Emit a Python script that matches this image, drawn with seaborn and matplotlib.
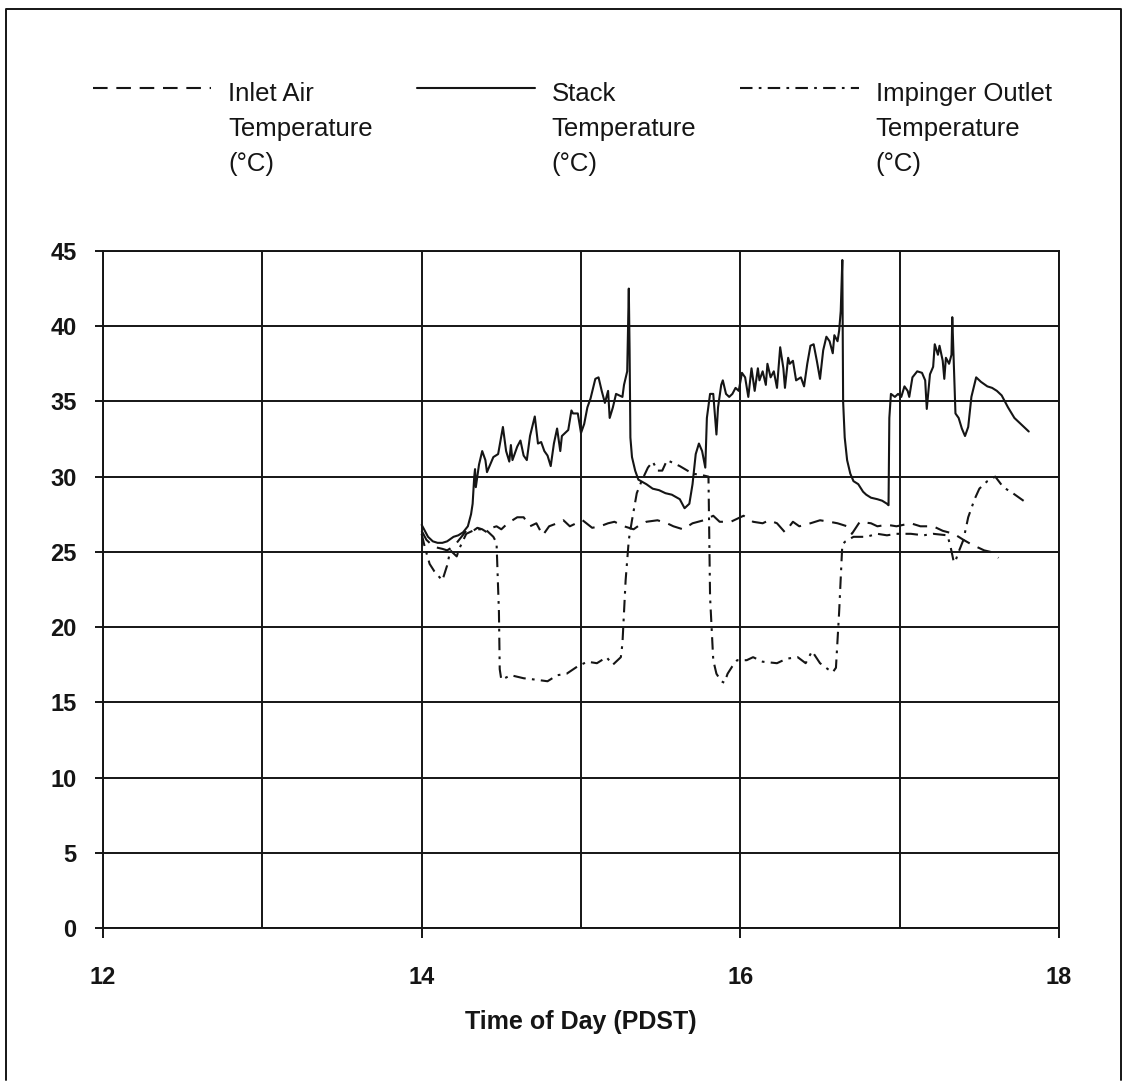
import numpy as np
import pandas as pd
import matplotlib
matplotlib.use("Agg")
import matplotlib.pyplot as plt
from matplotlib.legend_handler import HandlerLine2D
from matplotlib.lines import Line2D
import seaborn as sns

# Time of day (decimal hours, PDST) and temperatures (deg C)
inlet_time = [14.00, 14.03, 14.06, 14.09, 14.13, 14.16, 14.19, 14.22, 14.25, 14.28,
              14.31, 14.35, 14.38, 14.41, 14.44, 14.47, 14.50, 14.54, 14.57, 14.60,
              14.64, 14.68, 14.72, 14.76, 14.80, 14.85, 14.89, 14.93, 14.97, 15.01,
              15.07, 15.12, 15.17, 15.21, 15.27, 15.33, 15.37, 15.41, 15.48, 15.54,
              15.58, 15.64, 15.70, 15.77, 15.83, 15.87, 15.94, 16.02, 16.08, 16.14,
              16.18, 16.23, 16.28, 16.33, 16.37, 16.44, 16.50, 16.56, 16.61, 16.67,
              16.70, 16.75, 16.82, 16.86, 16.92, 16.98, 17.07, 17.13, 17.21, 17.27,
              17.34, 17.40, 17.45, 17.49, 17.53, 17.57, 17.62]
inlet_temp = [26.4, 25.8, 25.5, 25.3, 25.2, 25.1, 25.3, 25.6, 26.0, 26.4,
              26.3, 26.6, 26.5, 26.3, 26.6, 26.7, 26.5, 26.9, 27.1, 27.3,
              27.3, 26.7, 26.9, 26.1, 26.7, 26.9, 27.1, 26.7, 26.9, 27.1,
              26.6, 26.7, 26.9, 27.0, 26.7, 26.5, 26.8, 27.0, 27.1, 26.9,
              26.7, 26.5, 26.9, 27.1, 27.4, 27.0, 27.0, 27.4, 27.0, 26.9,
              27.1, 26.9, 26.3, 27.0, 26.7, 26.9, 27.1, 27.0, 26.9, 26.7,
              26.2, 27.0, 26.9, 26.7, 26.8, 26.7, 26.9, 26.7, 26.7, 26.4,
              26.2, 25.8, 25.5, 25.3, 25.1, 25.0, 24.6]

stack_time = [14.00, 14.02, 14.04, 14.07, 14.10, 14.13, 14.16, 14.20, 14.23, 14.26,
              14.29, 14.31, 14.32, 14.33, 14.335, 14.34, 14.36, 14.38, 14.40, 14.41,
              14.45, 14.48, 14.51, 14.53, 14.55, 14.56, 14.57, 14.60, 14.62, 14.64,
              14.66, 14.68, 14.71, 14.73, 14.75, 14.77, 14.79, 14.81, 14.83, 14.85,
              14.87, 14.88, 14.90, 14.92, 14.94, 14.95, 14.98, 15.00, 15.02, 15.04,
              15.06, 15.09, 15.11, 15.13, 15.15, 15.17, 15.18, 15.20, 15.22, 15.24,
              15.26, 15.27, 15.29, 15.30, 15.305, 15.31, 15.32, 15.34, 15.36, 15.41,
              15.45, 15.49, 15.53, 15.57, 15.62, 15.65, 15.68, 15.70, 15.72, 15.74,
              15.76, 15.78, 15.79, 15.81, 15.83, 15.85, 15.86, 15.88, 15.89, 15.91,
              15.93, 15.95, 15.97, 15.99, 16.01, 16.03, 16.05, 16.07, 16.09, 16.11,
              16.12, 16.14, 16.16, 16.17, 16.19, 16.21, 16.23, 16.25, 16.27, 16.28,
              16.30, 16.31, 16.33, 16.35, 16.38, 16.40, 16.42, 16.44, 16.46, 16.48,
              16.50, 16.52, 16.54, 16.56, 16.58, 16.59, 16.61, 16.62, 16.63, 16.64,
              16.645, 16.655, 16.67, 16.69, 16.71, 16.74, 16.77, 16.79, 16.82, 16.86,
              16.89, 16.92, 16.93, 16.935, 16.945, 16.97, 16.99, 17.01, 17.03, 17.05,
              17.06, 17.08, 17.11, 17.14, 17.16, 17.17, 17.19, 17.21, 17.22, 17.24,
              17.25, 17.27, 17.28, 17.29, 17.31, 17.325, 17.33, 17.34, 17.35, 17.37,
              17.39, 17.41, 17.43, 17.45, 17.48, 17.51, 17.55, 17.58, 17.61, 17.64,
              17.68, 17.72, 17.77, 17.81]
stack_temp = [26.8, 26.4, 26.0, 25.7, 25.6, 25.6, 25.7, 26.0, 26.1, 26.3,
              26.7, 27.5, 28.2, 30.0, 30.5, 29.3, 30.8, 31.7, 31.1, 30.3,
              31.3, 31.5, 33.3, 31.7, 31.0, 32.1, 31.1, 32.0, 32.4, 31.4,
              31.1, 32.7, 34.0, 32.2, 32.3, 31.7, 31.4, 30.7, 32.2, 33.2,
              31.7, 32.7, 32.9, 33.1, 34.4, 34.2, 34.2, 32.9, 33.5, 34.6,
              35.2, 36.5, 36.6, 35.7, 34.9, 35.7, 33.9, 34.6, 35.5, 35.4,
              35.3, 36.1, 37.0, 42.5, 38.4, 32.6, 31.3, 30.4, 29.8, 29.5,
              29.2, 29.1, 28.9, 28.8, 28.5, 27.9, 28.2, 29.5, 31.5, 32.2,
              31.7, 30.6, 33.9, 35.5, 35.5, 32.8, 34.6, 36.1, 36.4, 35.5,
              35.3, 35.5, 35.9, 35.7, 36.9, 36.6, 35.3, 37.2, 35.7, 37.2,
              36.4, 37.0, 36.1, 37.5, 36.6, 37.0, 35.9, 38.6, 37.2, 35.9,
              37.9, 37.5, 37.7, 36.4, 36.6, 36.0, 37.5, 38.7, 38.8, 37.7,
              36.5, 38.4, 39.3, 39.0, 38.2, 39.4, 39.0, 39.7, 41.0, 44.4,
              35.0, 32.6, 31.1, 30.2, 29.7, 29.5, 29.0, 28.8, 28.6, 28.5,
              28.4, 28.2, 28.1, 33.9, 35.5, 35.3, 35.5, 35.3, 36.0, 35.7,
              35.3, 36.6, 37.0, 36.9, 36.4, 34.5, 36.8, 37.3, 38.8, 38.1,
              38.7, 37.7, 36.5, 37.9, 37.5, 38.1, 40.6, 37.3, 34.2, 33.9,
              33.2, 32.7, 33.3, 35.3, 36.6, 36.3, 36.0, 35.9, 35.7, 35.4,
              34.6, 33.9, 33.4, 33.0]

impinger_time = [14.00, 14.02, 14.05, 14.08, 14.13, 14.16, 14.18, 14.22, 14.24, 14.28,
                 14.34, 14.40, 14.45, 14.47, 14.485, 14.49, 14.50, 14.56, 14.64, 14.72,
                 14.79, 14.85, 14.91, 14.98, 15.04, 15.10, 15.16, 15.20, 15.25, 15.26,
                 15.28, 15.30, 15.32, 15.35, 15.38, 15.42, 15.45, 15.48, 15.51, 15.54,
                 15.58, 15.62, 15.70, 15.76, 15.80, 15.81, 15.83, 15.85, 15.88, 15.90,
                 15.92, 15.95, 15.98, 16.04, 16.08, 16.14, 16.23, 16.29, 16.36, 16.41,
                 16.45, 16.50, 16.55, 16.58, 16.60, 16.62, 16.64, 16.66, 16.71, 16.79,
                 16.86, 16.92, 16.98, 17.07, 17.15, 17.21, 17.30, 17.32, 17.34, 17.35,
                 17.37, 17.40, 17.43, 17.47, 17.50, 17.55, 17.60, 17.65, 17.71, 17.79]
impinger_temp = [26.2, 25.3, 24.2, 23.7, 23.1, 24.1, 25.1, 24.7, 25.3, 26.2,
                 26.5, 26.5, 26.0, 25.6, 21.0, 17.2, 16.5, 16.8, 16.6, 16.5,
                 16.4, 16.8, 16.9, 17.4, 17.7, 17.6, 18.0, 17.5, 18.0, 18.9,
                 23.1, 25.8, 27.1, 28.9, 29.7, 30.6, 31.0, 30.4, 30.4, 31.1,
                 30.9, 30.7, 30.2, 30.1, 30.0, 22.0, 17.8, 16.9, 16.4, 16.3,
                 16.9, 17.4, 17.8, 17.8, 18.0, 17.7, 17.6, 17.9, 18.0, 17.6,
                 18.4, 17.6, 17.2, 17.0, 17.3, 21.0, 25.5, 25.7, 26.0, 26.0,
                 26.2, 26.1, 26.2, 26.2, 26.1, 26.2, 26.1, 25.3, 24.3, 24.4,
                 25.0, 25.8, 27.3, 28.5, 29.2, 29.7, 30.0, 29.3, 28.9, 28.3]

series_labels = ["Inlet Air\nTemperature\n(\u00b0C)",
                 "Stack\nTemperature\n(\u00b0C)",
                 "Impinger Outlet\nTemperature\n(\u00b0C)"]
x_label = "Time of Day (PDST)"
x_major_ticks = [12, 14, 16, 18]
x_minor_ticks = [13, 15, 17]
y_ticks = [0, 5, 10, 15, 20, 25, 30, 35, 40, 45]

frames = []
for label, t, v in zip(series_labels,
                       [inlet_time, stack_time, impinger_time],
                       [inlet_temp, stack_temp, impinger_temp]):
    frames.append(pd.DataFrame({"time": t, "temp": v, "series": label}))
data = pd.concat(frames, ignore_index=True)

sns.set_theme(style="white")
plt.rcParams["font.family"] = ["Liberation Sans", "DejaVu Sans"]
plt.rcParams["lines.scale_dashes"] = True

ink = "#151515"
line_styles = {
    series_labels[0]: (0, (7.0, 4.2)),
    series_labels[1]: "-",
    series_labels[2]: (0, (6.0, 3.0, 1.3, 3.0)),
}

fig = plt.figure(figsize=(11.24, 10.85), dpi=100)
fig.patch.set_facecolor("white")
ax = fig.add_axes([0.0916, 0.1447, 0.9422 - 0.0916, 0.7687 - 0.1447])
ax.set_facecolor("white")

for label in series_labels:
    sns.lineplot(data=data[data["series"] == label], x="time", y="temp",
                 ax=ax, color=ink, linewidth=1.5, linestyle=line_styles[label],
                 estimator=None, sort=False, legend=False)

ax.set_xlim(12, 18)
ax.set_ylim(0, 45)
ax.set_xticks(x_major_ticks)
ax.set_xticks(x_minor_ticks, minor=True)
ax.set_yticks(y_ticks)
ax.set_axisbelow(True)
ax.grid(True, which="both", axis="x", color=ink, linewidth=1.4)
ax.grid(True, which="major", axis="y", color=ink, linewidth=1.4)

for side in ["left", "right", "top", "bottom"]:
    ax.spines[side].set_visible(True)
    ax.spines[side].set_color(ink)
    ax.spines[side].set_linewidth(1.4)

ax.tick_params(axis="x", which="major", direction="out", length=7.5, width=1.4,
               color=ink, pad=20, labelsize=17, labelcolor=ink, bottom=True)
ax.tick_params(axis="x", which="minor", length=0, bottom=False)
ax.tick_params(axis="y", which="major", direction="out", length=6, width=1.4,
               color=ink, pad=13, labelsize=17, labelcolor=ink, left=True)
for lab in ax.get_xticklabels() + ax.get_yticklabels():
    lab.set_fontweight("bold")

ax.set_xlabel(x_label, fontsize=18, fontweight="bold", color=ink)
ax.set_ylabel("")
ax.xaxis.set_label_coords(0.5, -0.121)


class FirstLineHandler(HandlerLine2D):
    """Line handle lifted to sit beside the first row of a multi-line label."""

    def __init__(self, lift, **kw):
        super().__init__(**kw)
        self.lift = lift

    def create_artists(self, legend, orig_handle, xdescent, ydescent,
                       width, height, fontsize, trans):
        artists = super().create_artists(legend, orig_handle, xdescent, ydescent,
                                         width, height, fontsize, trans)
        for art in artists:
            art.set_ydata(np.asarray(art.get_ydata(), dtype=float) + self.lift * fontsize)
        return artists


handles = list(ax.get_lines())[:3]
handler = FirstLineHandler(lift=1.6)
leg = fig.legend(handles, series_labels, loc="upper left",
                 bbox_to_anchor=(93 / 1124, 1 - 82 / 1085),
                 bbox_transform=fig.transFigure, ncol=3, frameon=False,
                 fontsize=18.5, handlelength=4.6, handletextpad=0.66,
                 columnspacing=1.71, borderpad=0, borderaxespad=0,
                 handler_map={h: handler for h in handles})
for txt in leg.get_texts():
    txt.set_color(ink)
    txt.set_linespacing(1.57)

# page frame around the whole figure
frame = Line2D([6 / 1124, 6 / 1124, 1121 / 1124, 1121 / 1124],
               [1 - 1080 / 1085, 1 - 9 / 1085, 1 - 9 / 1085, 1 - 1080 / 1085],
               transform=fig.transFigure, color=ink, linewidth=1.4)
fig.add_artist(frame)

fig.savefig("out.png", dpi=100, facecolor="white")
